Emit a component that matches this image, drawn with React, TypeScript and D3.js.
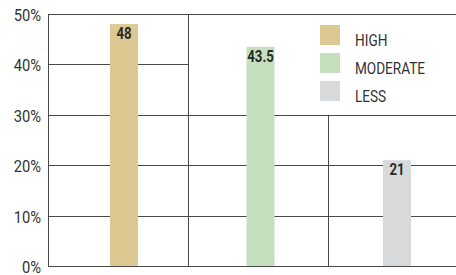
import React from "react";
import * as d3 from "d3";

const categories = ["HIGH", "MODERATE", "LESS"];
const values = [48, 43.5, 21];
const valueLabels = ["48", "43.5", "21"];
const colors = ["#dcc992", "#c6e0bf", "#d8d9db"];
const yTicks = [0, 10, 20, 30, 40, 50];
const legendFloor = 30; // grid is cleared above this value to the right of the first column

const W = 456;
const H = 275;
const FONT = "Roboto, 'Liberation Sans', sans-serif";

function CText(props: {
  x: number;
  y: number;
  sx: number;
  anchor?: "start" | "middle" | "end";
  size: number;
  weight?: string;
  fill: string;
  children: React.ReactNode;
}) {
  return (
    <text
      transform={`translate(${props.x},${props.y}) scale(${props.sx},1)`}
      textAnchor={props.anchor || "start"}
      fontSize={props.size}
      fontWeight={props.weight || "normal"}
      fill={props.fill}
    >
      {props.children}
    </text>
  );
}

export default function App() {
  const left = 48;
  const top = 14;
  const bottom = 266;
  const y = d3.scaleLinear().domain([0, 50]).range([bottom, top]);
  const xGrid = d3.scaleBand<string>().domain(categories).range([left, 468]);
  const xBar = d3.scalePoint<string>().domain(categories).range([124, 397]);
  const barW = 28;
  const crisp = (v: number) => Math.round(v) + 0.5;
  const stroke = "#4a4a4a";

  return (
    <svg
      width={W}
      height={H}
      style={{ position: "absolute", left: 0, top: 0, background: "#fff" }}
      fontFamily={FONT}
    >
      {/* horizontal grid */}
      {yTicks.map((t) => {
        const yy = crisp(y(t));
        const x2 = t > legendFloor && t < 50 ? xGrid(categories[1])! : W;
        return <line key={"h" + t} x1={left} x2={x2} y1={yy} y2={yy} stroke={stroke} strokeWidth={1} />;
      })}
      {/* vertical grid */}
      {categories.map((c, i) => {
        const xx = crisp(xGrid(c)!);
        const y1 = i === 2 ? y(legendFloor) : y(50);
        return <line key={"v" + c} x1={xx} x2={xx} y1={y1} y2={y(0)} stroke={stroke} strokeWidth={1} />;
      })}
      {/* y labels */}
      {yTicks.map((t) => (
        <CText key={"yl" + t} x={41} y={y(t) + 7} sx={0.92} anchor="end" size={16} fill="#333">
          {t}%
        </CText>
      ))}
      {/* bars */}
      {categories.map((c, i) => (
        <rect
          key={"b" + c}
          x={xBar(c)! - barW / 2}
          y={y(values[i])}
          width={barW}
          height={y(0) - y(values[i])}
          fill={colors[i]}
        />
      ))}
      {categories.map((c, i) => (
        <CText
          key={"vl" + c}
          x={xBar(c)!}
          y={y(values[i]) + 15}
          sx={0.8}
          anchor="middle"
          size={16.5}
          weight="bold"
          fill="#2a2a2a"
        >
          {valueLabels[i]}
        </CText>
      ))}
      {/* legend */}
      {categories.map((c, i) => (
        <g key={"lg" + c} transform={`translate(320, ${25 + i * 28})`}>
          <rect x={0} y={0} width={20} height={20} fill={colors[i]} />
          <CText x={35} y={20.5} sx={0.8} size={17} fill="#333">
            {c}
          </CText>
        </g>
      ))}
    </svg>
  );
}
